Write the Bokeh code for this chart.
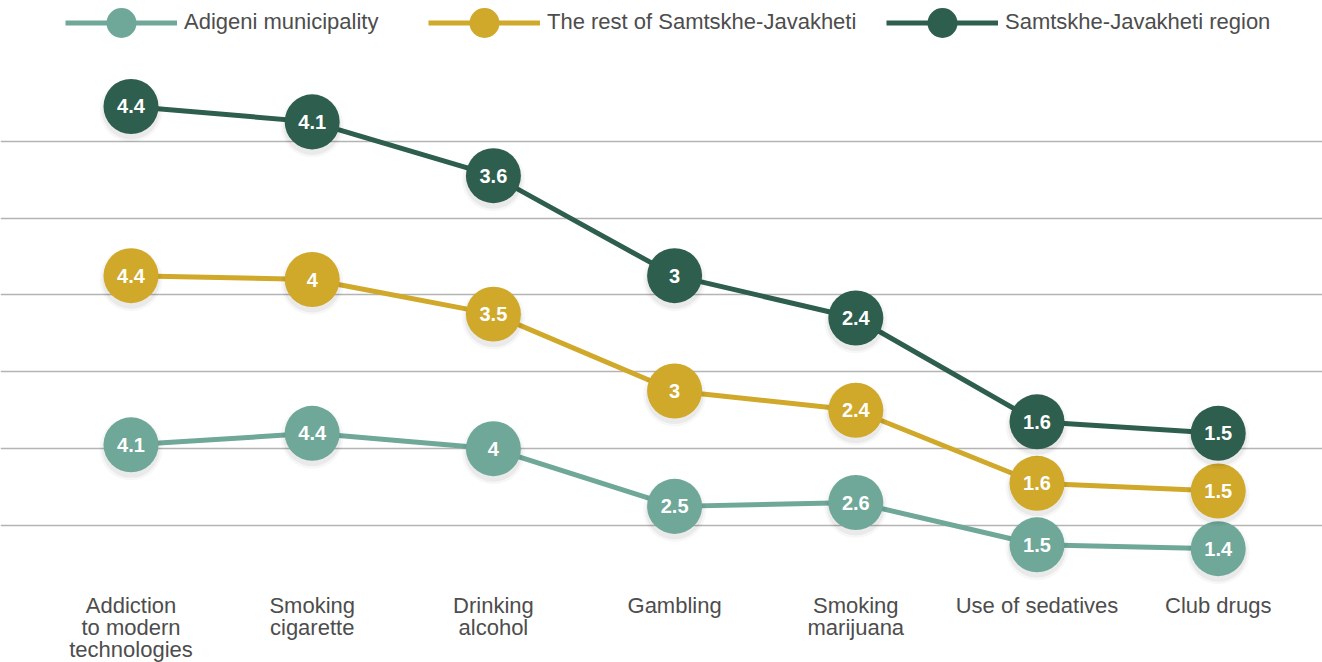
import numpy as np
from bokeh.plotting import figure
from bokeh.models import ColumnDataSource, Range1d, Grid, FixedTicker, Legend, LegendItem
from bokeh.core.properties import value
from bokeh.embed import file_html
from bokeh.resources import INLINE

# ---- data ----
categories = ["Addiction\nto modern\ntechnologies", "Smoking\ncigarette", "Drinking\nalcohol",
              "Gambling", "Smoking\nmarijuana", "Use of sedatives", "Club drugs"]
series_names = ["Adigeni municipality", "The rest of Samtskhe-Javakheti", "Samtskhe-Javakheti region"]
adigeni = [4.1, 4.4, 4.0, 2.5, 2.6, 1.5, 1.4]
rest = [4.4, 4.0, 3.5, 3.0, 2.4, 1.6, 1.5]
region = [4.4, 4.1, 3.6, 3.0, 2.4, 1.6, 1.5]
grid_ticks = [2, 4, 6, 8, 10, 12]

colors = ["#6FA899", "#D0A82A", "#2E5E4D"]
FONT = "Liberation Sans"

W, H = 1322, 662
px_per_unit = 38.45
zero_px = 602.0
x_first_px = 130.5
x_step_px = 181.2

p = figure(width=W, height=H, output_backend="svg", toolbar_location=None,
           x_axis_location=None, y_axis_location=None,
           x_range=Range1d(-x_first_px / x_step_px, (W - x_first_px) / x_step_px),
           y_range=Range1d((zero_px - H) / px_per_unit, zero_px / px_per_unit),
           min_border=0, min_border_left=0, min_border_right=0, min_border_top=0, min_border_bottom=0)
p.outline_line_color = None
p.background_fill_color = "white"
p.grid.visible = False

p.add_layout(Grid(dimension=1, ticker=FixedTicker(ticks=grid_ticks),
                  grid_line_color="#b4b4b4", grid_line_width=1.5))

xs = np.arange(len(categories))
stack = np.cumsum(np.array([adigeni, rest, region]), axis=0)
vals = [adigeni, rest, region]

def fmt(v):
    return f"{v:g}"

renderers = []
for i in range(3):
    src = ColumnDataSource(dict(x=xs, y=stack[i], lab=[fmt(v) for v in vals[i]]))
    lr = p.line("x", "y", source=src, line_color=colors[i], line_width=5)
    renderers.append([lr, src])

for i in range(3):
    lr, src = renderers[i]
    sh_src = ColumnDataSource(dict(x=xs, y=stack[i] - 4 / px_per_unit))
    p.scatter("x", "y", source=sh_src, size=63, marker="circle", fill_color="black",
              fill_alpha=0.03, line_color=None)
    p.scatter("x", "y", source=sh_src, size=58, marker="circle", fill_color="black",
              fill_alpha=0.05, line_color=None)
    cr = p.scatter("x", "y", source=src, size=55, marker="circle", fill_color=colors[i],
                   line_color=None)
    p.text("x", "y", text="lab", source=src, text_align="center", text_baseline="middle",
           text_color="white", text_font=value(FONT), text_font_style="bold",
           text_font_size="20px")
    renderers[i].append(cr)

# category labels
p.text(x=xs, y=0, text=categories, text_align="center", text_baseline="top",
       text_color="#4d4d4d", text_font=value(FONT), text_font_size="22px",
       text_line_height=0.89, y_offset=-10)

# legends
leg_x = [65, 428, 886]
for i in range(3):
    lr, src, cr = renderers[i]
    leg = Legend(items=[LegendItem(label=series_names[i], renderers=[lr, cr])],
                 location=(leg_x[i], H - 22 - 37.5), orientation="horizontal",
                 glyph_width=112, glyph_height=75, label_standoff=7, padding=0, margin=0,
                 border_line_color=None, background_fill_alpha=0,
                 label_text_font=FONT, label_text_font_size="22px",
                 label_text_color="#4d4d4d", label_height=20)
    p.add_layout(leg)

open("out.html", "w").write(file_html(p, INLINE))
